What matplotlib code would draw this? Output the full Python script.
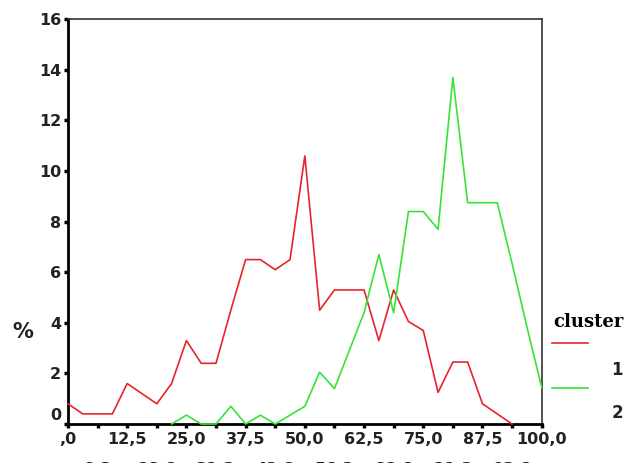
import numpy as np
import matplotlib.pyplot as plt
from matplotlib.lines import Line2D
import matplotlib.transforms as mtransforms

# x bins: 0 .. 100 step 3.125
x_vals = np.arange(33) * 3.125

# % per cluster (None = not drawn)
cluster1 = [0.8, 0.4, 0.4, 0.4, 1.6, 1.2, 0.8, 1.6, 3.3, 2.4, 2.4, 4.5,
            6.5, 6.5, 6.1, 6.5, 10.6, 4.5, 5.3, 5.3, 5.3, 3.3, 5.3, 4.05,
            3.7, 1.25, 2.45, 2.45, 0.8, 0.4, 0.0, None, None]
cluster2 = [None, None, None, None, None, None, None, 0.0, 0.35, 0.0, 0.0, 0.7,
            0.0, 0.35, 0.0, 0.35, 0.7, 2.05, 1.4, 2.9, 4.4, 6.7, 4.4, 8.4,
            8.4, 7.7, 13.7, 8.75, 8.75, 8.75, 6.35, 3.85, 1.45]

tick_major = ['0', '12,5', '25,0', '37,5', '50,0', '62,5', '75,0', '87,5', '100,0']
tick_major[0] = ',0'
tick_minor = ['6,3', '18,8', '31,3', '43,8', '56,3', '68,8', '81,3', '93,8']

red = '#e8232b'
green = '#36e336'

fig = plt.figure(figsize=(6.26, 4.63), dpi=100)
ax = fig.add_axes([0.1086, 0.0842, 0.7567, 0.8741])

y1 = np.array([np.nan if v is None else v for v in cluster1])
y2 = np.array([np.nan if v is None else v for v in cluster2])
ax.plot(x_vals, y1, color=red, lw=1.2, clip_on=False, zorder=3)
ax.plot(x_vals, y2, color=green, lw=1.2, clip_on=False, zorder=3)

ax.set_xlim(0, 100)
ax.set_ylim(0, 16)

# spines
for s in ['left', 'bottom']:
    ax.spines[s].set_linewidth(2.0)
    ax.spines[s].set_color('black')
for s in ['top', 'right']:
    ax.spines[s].set_linewidth(1.2)
    ax.spines[s].set_color('#333333')

ax.set_yticks(np.arange(0, 17, 2))
ax.set_yticklabels([str(v) for v in range(0, 17, 2)])
ax.set_xticks(np.arange(0, 101, 12.5))
ax.set_xticklabels(tick_major)
ax.set_xticks(np.arange(6.25, 100, 12.5), minor=True)
ax.set_xticklabels(tick_minor, minor=True)

ax.tick_params(axis='both', which='both', direction='out', length=3, width=2.5,
               color='black', labelsize=11.5)
ax.tick_params(axis='y', pad=2)
ax.tick_params(axis='x', which='major', pad=3)
ax.tick_params(axis='x', which='minor', pad=24)
for lab in ax.get_xticklabels(which='both') + ax.get_yticklabels():
    lab.set_fontweight('bold')
    lab.set_color('#222222')

# the "0" label sits a bit above the baseline
ylabs = ax.get_yticklabels()
ylabs[0].set_transform(ylabs[0].get_transform() +
                       mtransforms.ScaledTranslation(0, 10 / 100, fig.dpi_scale_trans))

fig.text(23 / 626, 1 - 332 / 463, '%', fontsize=15, fontweight='bold',
         ha='center', va='center', color='#222222')

# legend
fig.text(553 / 626, 1 - 322 / 463, 'cluster', fontsize=13, fontweight='bold',
         family='DejaVu Serif', ha='left', va='center', color='black')
fig.add_artist(Line2D([552 / 626, 588 / 626], [1 - 343 / 463, 1 - 343 / 463],
                      color=red, lw=1.2))
fig.add_artist(Line2D([552 / 626, 588 / 626], [1 - 388 / 463, 1 - 388 / 463],
                      color=green, lw=1.2))
fig.text(617 / 626, 1 - 370 / 463, '1', fontsize=12, fontweight='bold',
         ha='center', va='center', color='#222222')
fig.text(617 / 626, 1 - 413 / 463, '2', fontsize=12, fontweight='bold',
         ha='center', va='center', color='#222222')

fig.savefig('out.png', dpi=100)
